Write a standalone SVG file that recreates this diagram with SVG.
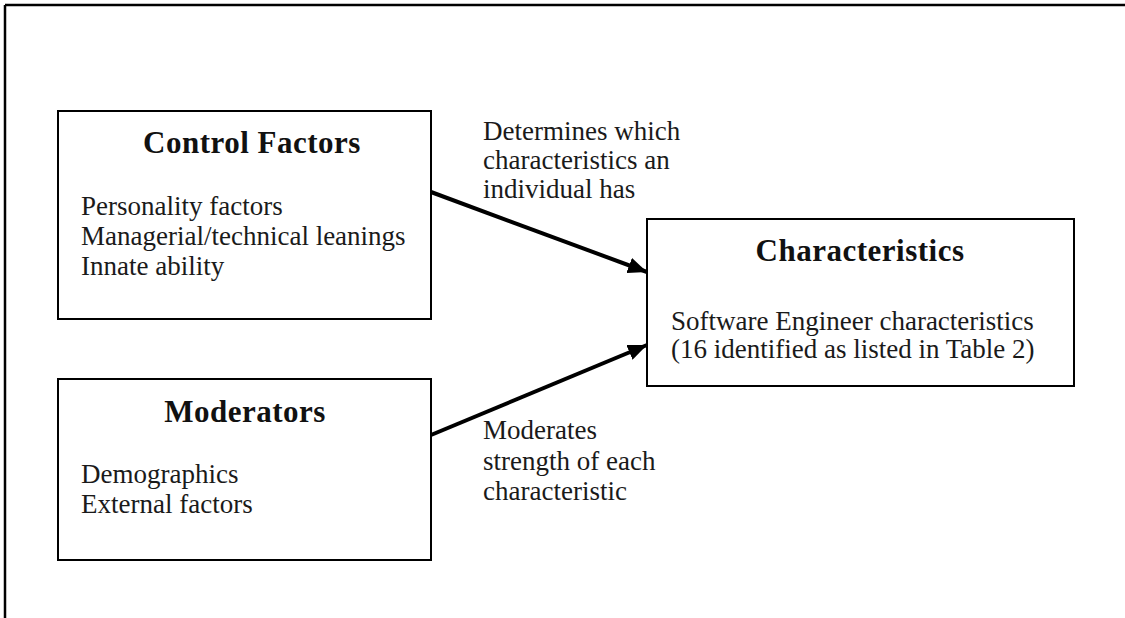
<svg xmlns="http://www.w3.org/2000/svg" width="1125" height="618" viewBox="0 0 1125 618">
<style>
.box{fill:#fff;stroke:#000;stroke-width:2}
.title{font-family:"Liberation Serif",serif;font-weight:bold;font-size:31px;fill:#111;text-anchor:middle;letter-spacing:0.5px}
.body{font-family:"Liberation Serif",serif;font-size:27px;fill:#1a1a1a}
.conn{stroke:#000;stroke-width:4;fill:none}
</style>
<defs>
<marker id="ah" markerUnits="userSpaceOnUse" markerWidth="20" markerHeight="16" refX="19" refY="8" orient="auto">
<path d="M0,0 L19,8 L0,16 Z" fill="#000"/>
</marker>
</defs>
<rect width="1125" height="618" fill="#fff"/>
<g id="frame">
<line x1="5" y1="5" x2="1125" y2="5" stroke="#000" stroke-width="2.5"/>
<line x1="5" y1="5" x2="5" y2="618" stroke="#000" stroke-width="2.5"/>
</g>
<g id="control-factors">
<rect class="box" x="58" y="111" width="373" height="208"/>
<text class="title" x="252" y="153">Control Factors</text>
<text class="body" x="81" y="215">Personality factors</text>
<text class="body" x="81" y="245">Managerial/technical leanings</text>
<text class="body" x="81" y="275">Innate ability</text>
</g>
<g id="moderators">
<rect class="box" x="58" y="379" width="373" height="181"/>
<text class="title" x="245" y="422">Moderators</text>
<text class="body" x="81" y="483">Demographics</text>
<text class="body" x="81" y="513">External factors</text>
</g>
<g id="characteristics">
<rect class="box" x="647" y="219" width="427" height="167"/>
<text class="title" x="860" y="261">Characteristics</text>
<text class="body" x="671" y="330">Software Engineer characteristics</text>
<text class="body" x="671" y="358">(16 identified as listed in Table 2)</text>
</g>
<g id="connectors">
<line class="conn" x1="431" y1="192" x2="647" y2="272" marker-end="url(#ah)"/>
<line class="conn" x1="431" y1="435" x2="647" y2="345" marker-end="url(#ah)"/>
<text class="body" x="483" y="140">Determines which</text>
<text class="body" x="483" y="169">characteristics an</text>
<text class="body" x="483" y="198">individual has</text>
<text class="body" x="483" y="439">Moderates</text>
<text class="body" x="483" y="470">strength of each</text>
<text class="body" x="483" y="500">characteristic</text>
</g>
</svg>
